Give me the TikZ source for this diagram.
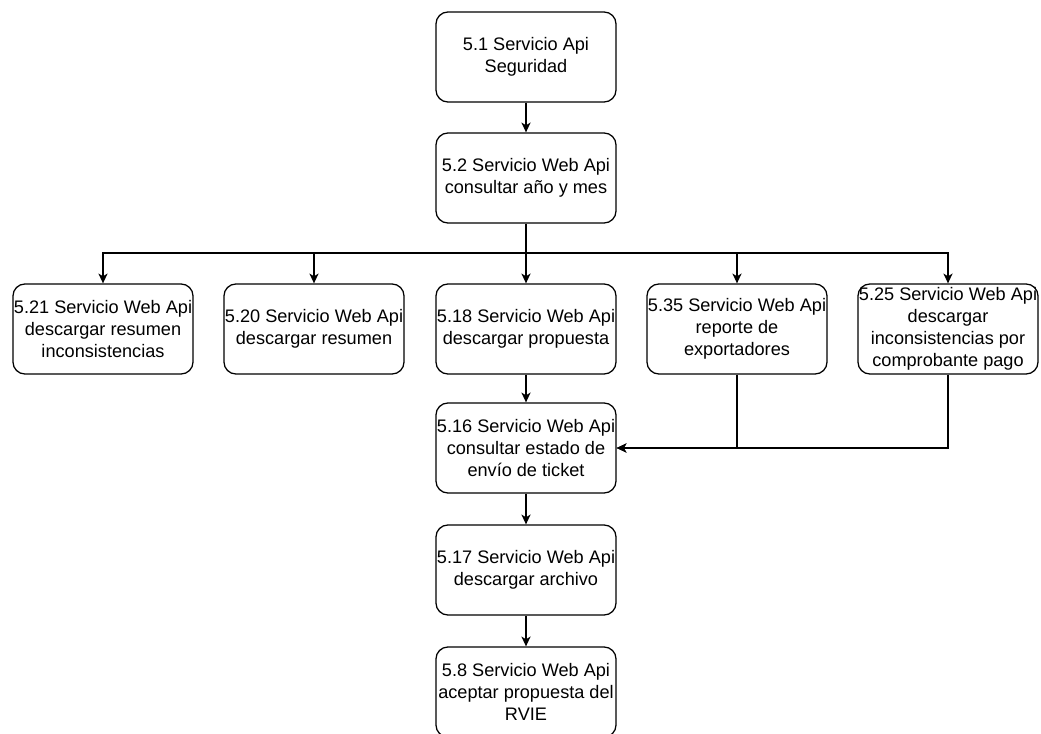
\documentclass[tikz,border=0pt]{standalone}
\usepackage{fontspec}
\setmainfont{Liberation Sans}
\usetikzlibrary{arrows.meta}

\begin{document}
\begin{tikzpicture}[x=0.025cm, y=0.025cm,
  servicio/.style={draw, rounded corners=0.3cm, line width=0.9pt,
    minimum width=4.5cm, minimum height=2.25cm, inner sep=0pt,
    align=center, font=\fontsize{12.9}{15.6}\selectfont},
  flecha/.style={-{Stealth[length=7pt, width=6.5pt, inset=2pt]}, line width=0.9pt}]
\useasboundingbox (0, 0) rectangle (1041, 733);
\node (seg) at (526, 676) [servicio] {5.1 Servicio Api\\Seguridad};
\node (anio) at (526, 555) [servicio] {5.2 Servicio Web Api\\consultar año y mes};
\node (res21) at (103, 404) [servicio] {5.21 Servicio Web Api\\descargar resumen\\inconsistencias};
\node (res20) at (314, 404) [servicio] {5.20 Servicio Web Api\\descargar resumen};
\node (prop18) at (526, 404) [servicio] {5.18 Servicio Web Api\\descargar propuesta};
\node (exp35) at (737, 404) [servicio] {5.35 Servicio Web Api\\reporte de\\exportadores};
\node (comp25) at (948, 404) [servicio] {5.25 Servicio Web Api\\descargar\\inconsistencias por\\comprobante pago};
\node (ticket16) at (526, 285) [servicio] {5.16 Servicio Web Api\\consultar estado de\\envío de ticket};
\node (arch17) at (526, 163) [servicio] {5.17 Servicio Web Api\\descargar archivo};
\node (acep8) at (526, 41) [servicio] {5.8 Servicio Web Api\\aceptar propuesta del\\RVIE};
\coordinate (rama) at (526, 480);
\draw [flecha] (seg) -- (anio);
\draw [flecha] (anio) -- (prop18);
\draw [flecha] (rama) -| (res21);
\draw [flecha] (rama) -| (res20);
\draw [flecha] (rama) -| (exp35);
\draw [flecha] (rama) -| (comp25);
\draw [flecha] (prop18) -- (ticket16);
\draw [flecha] (exp35) |- (ticket16);
\draw [flecha] (comp25) |- (ticket16);
\draw [flecha] (ticket16) -- (arch17);
\draw [flecha] (arch17) -- (acep8);
\end{tikzpicture}
\end{document}
